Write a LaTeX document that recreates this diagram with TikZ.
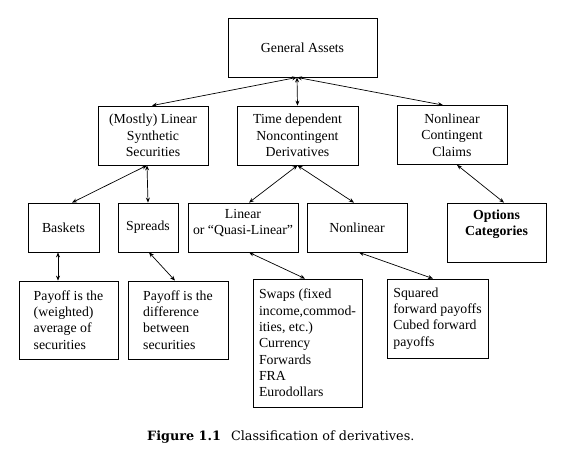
\documentclass[tikz,border=0pt]{standalone}
\usepackage{fontspec}
\setmainfont{Liberation Serif}
\newfontfamily\capfont{DejaVu Serif}
\usetikzlibrary{arrows.meta}
\begin{document}
\begin{tikzpicture}[x=1pt,y=-1pt,
  box/.style={draw, line width=0.8pt, inner sep=0pt, align=center,
    font=\fontsize{13.8}{16.3}\selectfont},
  lbox/.style={box, align=left},
  link/.style={line width=0.7pt, {Stealth[length=5pt,width=4pt]}-{Stealth[length=5pt,width=4pt]}}]
\useasboundingbox[fill=white] (0,0) rectangle (570,456);

\node[box, minimum width=149pt, minimum height=59pt] (ga) at (302.5,47.5) {General Assets};

\node[box, minimum width=110pt, minimum height=59pt] (ml) at (153,135.5) {(Mostly) Linear\\Synthetic\\Securities};
\node[box, minimum width=121pt, minimum height=59pt] (td) at (297.5,135.5) {Time dependent\\Noncontingent\\Derivatives};
\node[box, minimum width=110pt, minimum height=59pt] (nc) at (452,135) {Nonlinear\\Contingent\\Claims};

\node[box, minimum width=71pt, minimum height=49pt] (bk) at (63.5,227.5) {Baskets};
\node[box, minimum width=60pt, minimum height=49pt] (sp) at (148,227.5) {Spreads};
\node[box, minimum width=110pt, minimum height=49pt] (li) at (243,227.5) {Linear\\or ``Quasi-Linear''\\[-5pt]\mbox{}};
\node[box, minimum width=100pt, minimum height=49pt] (nl) at (357,227.5) {Nonlinear};
\node[box, minimum width=99pt, minimum height=59pt] (oc) at (496.5,232.5) {\bfseries Options\\\bfseries Categories\\[-2pt]\strut};

\node[lbox, minimum width=99pt, minimum height=78pt] (pw) at (68.5,320) {Payoff is the\\(weighted)\\average of\\securities};
\node[lbox, minimum width=100pt, minimum height=78pt] (pd) at (178,320) {Payoff is the\\difference\\between\\securities};
\node[lbox, minimum width=109pt, minimum height=128pt] (sw) at (307.5,343) {Swaps (fixed\\income,commod-\\ities, etc.)\\Currency\\Forwards\\FRA\\Eurodollars};
\node[lbox, minimum width=101pt, minimum height=79pt] (sq) at (437.5,318.5) {Squared\\forward payoffs\\Cubed forward\\payoffs};

\draw[link] ([xshift=-5.5pt]ga.south) -- ([xshift=-1pt]ml.north);
\draw[link] ([xshift=-5.5pt]ga.south) -- (td.north);
\draw[link] ([xshift=-5.5pt]ga.south) -- ([xshift=-9pt]nc.north);

\draw[link] ([xshift=-6pt]ml.south) -- ([xshift=8.5pt]bk.north);
\draw[link] ([xshift=-6pt]ml.south) -- (sp.north);
\draw[link] (td.south) -- ([xshift=6pt]li.north);
\draw[link] (td.south) -- ([xshift=-3pt]nl.north);
\draw[link] ([xshift=5pt]nc.south) -- ([xshift=7.5pt]oc.north);

\draw[link] ([xshift=-5.5pt]bk.south) -- ([xshift=-10.5pt]pw.north);
\draw[link] ([xshift=1pt]sp.south) -- ([xshift=-3pt]pd.north);
\draw[link] ([xshift=6pt]li.south) -- ([xshift=-2.5pt]sw.north);
\draw[link] ([xshift=2pt]nl.south) -- ([xshift=-4.5pt]sq.north);

\node[anchor=base west, inner sep=0pt, font=\capfont\fontsize{12.8}{15}\selectfont] (cap) at (147,440)
  {\textbf{Figure 1.1}\hspace{10pt}Classification of derivatives.};
\end{tikzpicture}
\end{document}
